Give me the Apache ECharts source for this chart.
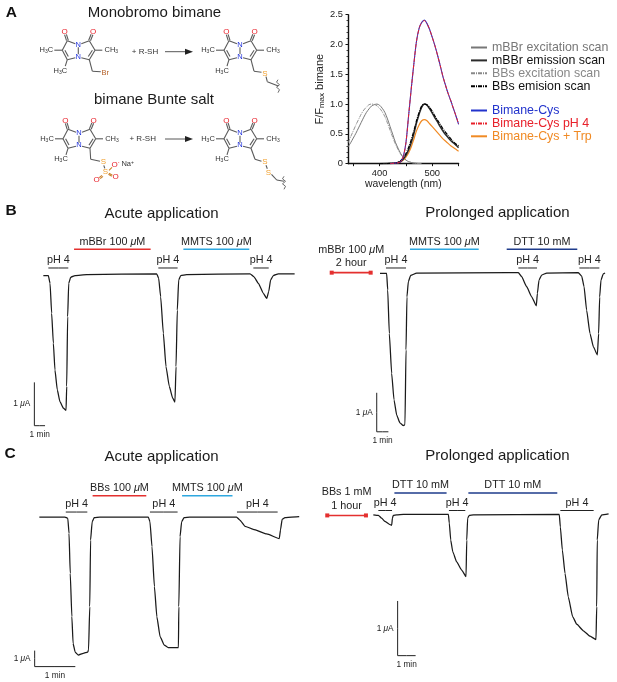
<!DOCTYPE html>
<html><head><meta charset="utf-8">
<style>html,body{margin:0;padding:0;background:#fff}#c{width:617px;height:682px}</style>
<script src="https://cdn.jsdelivr.net/npm/echarts@6/dist/echarts.min.js"></script>
</head><body><div id="c"></div>
<script>
// ---------- spectra, [wavelength nm, F/Fmax] ----------
const mbbrExcitation=[[340,.28],[345,.35],[350,.43],[355,.51],[360,.6],[365,.69],[370,.78],[375,.86],[380,.92],[385,.97],[390,.99],[395,1],[400,.98],[405,.93],[410,.86],[415,.75],[420,.62],[425,.49],[430,.36],[435,.26],[440,.17],[445,.11],[450,.06],[455,.035],[460,.02],[465,.01],[470,.005],[480,0]];
const mbbrEmission=[[400,0],[425,.005],[430,.01],[435,.02],[440,.04],[445,.08],[450,.14],[455,.23],[460,.35],[465,.5],[470,.68],[475,.83],[480,.95],[485,1],[490,.98],[495,.92],[500,.85],[505,.77],[510,.7],[515,.62],[520,.55],[525,.49],[530,.44],[535,.39],[540,.35],[545,.31],[550,.27]];
const bbsExcitation=[[340,.35],[345,.45],[350,.55],[355,.65],[360,.74],[365,.83],[370,.9],[375,.95],[380,.99],[385,1],[390,.995],[395,.97],[400,.93],[405,.87],[410,.79],[415,.68],[420,.56],[425,.44],[430,.33],[435,.24],[440,.16],[445,.1],[450,.06],[455,.035],[460,.02],[465,.01],[470,.005],[480,0]];
const bbsEmission=[[400,0],[425,.005],[430,.01],[435,.025],[440,.05],[445,.1],[450,.17],[455,.27],[460,.4],[465,.55],[470,.72],[475,.86],[480,.97],[485,1],[490,.99],[495,.94],[500,.88],[505,.8],[510,.73],[515,.66],[520,.59],[525,.53],[530,.47],[535,.42],[540,.37],[545,.33],[550,.3]];
const bimaneCys=[[420,0],[430,.01],[435,.015],[440,.03],[445,.12],[450,.35],[455,.8],[460,1.25],[465,1.67],[470,2.05],[475,2.27],[480,2.37],[485,2.41],[490,2.35],[495,2.25],[500,2.12],[505,1.98],[510,1.82],[515,1.65],[520,1.47],[525,1.32],[530,1.18],[535,1.06],[540,.93],[545,.8],[550,.66]];
const bimaneCysPh4=[[420,0],[430,.01],[435,.015],[440,.03],[445,.12],[450,.35],[455,.8],[460,1.25],[465,1.67],[470,2.05],[475,2.27],[480,2.37],[485,2.4],[490,2.35],[495,2.25],[500,2.12],[505,1.98],[510,1.82],[515,1.65],[520,1.47],[525,1.32],[530,1.18],[535,1.06],[540,.93],[545,.8],[550,.67]];
const bimaneCysTrp=[[420,0],[430,.01],[435,.015],[440,.03],[445,.06],[450,.11],[455,.18],[460,.28],[465,.41],[470,.55],[475,.65],[480,.72],[485,.74],[490,.72],[495,.67],[500,.62],[505,.57],[510,.52],[515,.47],[520,.42],[525,.38],[530,.34],[535,.3],[540,.27],[545,.24],[550,.21]];
const legendTop=['mBBr excitation scan','mBBr emission scan','BBs excitation scan','BBs emision scan'];
const legendBottom=['Bimane-Cys','Bimane-Cys pH 4','Bimane-Cys + Trp'];
const spectrumYTicks=[0,.5,1,1.5,2,2.5];
const spectrumXLabels=[400,500];
const spectrumXTicks=[350,400,450,500,550];

// ---------- current traces, [time min, current uA] ----------
const traceBA=[[0,-.02],[.47,-.02],[.63,-.2],[.78,-.89],[.94,-1.58],[1.09,-2.2],[1.31,-2.66],[1.56,-2.93],[1.88,-3.08],[2.13,-3.13],[2.19,-2.58],[2.28,-.97],[2.38,-.2],[2.56,-.06],[2.97,-.02],[4.06,0],[10.63,.02],[10.81,-.08],[11,-.51],[11.25,-1.35],[11.5,-2.12],[11.81,-2.58],[12.13,-2.85],[12.34,-2.94],[12.44,-2.12],[12.56,-.82],[12.69,-.12],[12.88,-.02],[13.44,0],[19.38,.02],[19.75,-.05],[20.16,-.2],[20.63,-.43],[20.94,-.55],[21.13,-.39],[21.31,-.12],[21.56,-.02],[22.03,.02],[23.56,.02]];
const traceBP=[[0,-.02],[.57,-.02],[.66,-.44],[.8,-1.56],[1,-2.58],[1.2,-3.26],[1.43,-3.65],[1.71,-3.85],[2,-3.92],[2.14,-3.9],[2.23,-1.98],[2.31,-.62],[2.43,-.23],[2.63,-.07],[3.14,-.01],[11,0],[11.86,0],[12.14,-.1],[12.57,-.36],[13,-.62],[13.4,-.85],[13.49,-.53],[13.63,-.19],[13.86,-.06],[14.29,-.01],[17,0],[17.29,-.09],[17.49,-.36],[17.71,-.96],[18,-1.56],[18.29,-1.9],[18.63,-2.11],[18.74,-1.56],[18.83,-.62],[18.94,-.19],[19.14,-.03],[19.29,-.01]];
const traceCA=[[0,0],[.63,0],[.7,-.08],[.73,-1.02],[.76,-3.52],[.8,-6.23],[.83,-7.9],[.88,-8.44],[.96,-8.63],[1.08,-8.52],[1.19,-8.44],[1.21,-8.31],[1.24,-5.6],[1.26,-1.44],[1.3,-.29],[1.35,-.04],[1.49,0],[2.68,0],[2.72,-.29],[2.77,-1.85],[2.83,-4.35],[2.89,-6.23],[2.97,-7.48],[3.07,-8],[3.17,-8.17],[3.42,-8.17],[3.43,-5.6],[3.46,-1.23],[3.5,-.29],[3.56,-.04],[3.7,0],[4.85,0],[4.93,-.19],[5.06,-.58],[5.26,-.77],[5.59,-1.06],[5.9,-1.35],[5.93,-.81],[5.97,-.15],[6.04,-.04],[6.2,0],[6.39,.02]];
const traceCP=[[0,-.01],[.28,-.02],[.46,-.07],[.65,-.13],[.93,-.19],[1.02,-.2],[1.06,-.07],[1.11,-.02],[1.3,-.01],[1.67,0],[4.17,0],[4.22,-.16],[4.3,-.47],[4.41,-.68],[4.63,-.87],[4.91,-1.02],[5.15,-1.14],[5.19,-.47],[5.24,-.07],[5.33,-.02],[5.56,-.01],[10.33,0],[10.39,-.23],[10.5,-.65],[10.65,-1.08],[10.83,-1.51],[11.07,-1.87],[11.3,-2.01],[11.67,-2.13],[12.04,-2.23],[12.37,-2.29],[12.41,-1.69],[12.44,-.47],[12.52,-.1],[12.69,-.01],[13.07,.01]];

// ---------- application periods: label, start min, end min ----------
const acidBA=[[.47,2.34],[10.78,12.59],[19.69,21.13]];
const drugLabelsBA=['mBBr 100 μM','MMTS 100 μM'];
const drugTimesBA=[[2.88,10.06],[13.13,19.31]];
const acidBP=[[.51,2.23],[11.86,13.46],[17.09,18.8]];
const drugLabelsBP=['MMTS 100 μM','DTT 10 mM'];
const drugTimesBP=[[2.57,8.46],[10.86,16.91]];
const preLabelBP='mBBr 100 μM\n2 hour';
const preTimeBP=[-4.14,-.8];
const acidCA=[[.65,1.18],[2.72,3.4],[4.86,5.86]];
const drugLabelsCA=['BBs 100 μM','MMTS 100 μM'];
const drugTimesCA=[[1.31,2.63],[3.51,4.75]];
const acidCP=[[.28,1.04],[4.2,5.11],[10.39,12.24]];
const drugLabelsCP=['DTT 10 mM','DTT 10 mM'];
const drugTimesCP=[[1.17,4.07],[5.28,10.22]];
const preLabelCP='BBs 1 mM\n1 hour';
const preTimeCP=[-2.56,-.41];

const FONT='"Liberation Sans",Arial,sans-serif';
const RED='#e4302f',CYAN='#2ea8e0',NAVY='#1f3c8c',INK='#1a1a1a';
const richMu=s=>s.replace(/μ/g,'{i|μ}');
const muRich=f=>({i:{fontStyle:'italic',fontSize:f,fontFamily:FONT,color:'#222'}});

const panels=[
 {g:{left:22,top:231.33,width:277.33,height:216.67},x:[-2,24],y:[-4,1],trace:traceBA,acid:acidBA,dl:drugLabelsBA,dt:drugTimesBA,acidLvl:.154,drugLvl:.585,dc:[RED,CYAN],scale:[-.84,-2.485]},
 {g:{left:298.33,top:233.67,width:315,height:234},x:[-7,20],y:[-5,1],trace:traceBP,acid:acidBP,dl:drugLabelsBP,dt:drugTimesBP,acidLvl:.12,drugLvl:.6,dc:[CYAN,NAVY],scale:[-.28,-3.08],preL:preLabelBP,preT:preTimeBP,preLvl:0},
 {g:{left:19,top:469,width:284.67,height:208},x:[-.5,6.5],y:[-10,3],trace:traceCA,acid:acidCA,dl:drugLabelsCA,dt:drugTimesCA,acidLvl:.31,drugLvl:1.33,dc:[RED,CYAN],scale:[-.115,-8.35]},
 {g:{left:301.33,top:487,width:315,height:191.33},x:[-4,13.5],y:[-3,.5],trace:traceCP,acid:acidCP,dl:drugLabelsCP,dt:drugTimesCP,acidLvl:.07,drugLvl:.39,dc:[NAVY,NAVY],scale:[1.35,-1.585],preL:preLabelCP,preT:preTimeCP,preLvl:-.02}
];

const grids=[{left:348,top:14.67,width:110.6,height:149}];
const xAxes=[{gridIndex:0,type:'value',min:340,max:550,
  axisLine:{onZero:false,lineStyle:{color:'#111',width:1.4}},
  axisTick:{length:2.5,lineStyle:{color:'#111',width:1},customValues:spectrumXTicks},
  axisLabel:{fontFamily:FONT,fontSize:9.3,color:'#222',margin:5,customValues:spectrumXLabels,formatter:v=>String(v)},
  splitLine:{show:false},name:'wavelength (nm)',nameLocation:'middle',nameGap:15,nameTextStyle:{fontFamily:FONT,fontSize:10.4,color:'#222'}}];
const yAxes=[{gridIndex:0,type:'value',min:0,max:2.5,interval:.5,
  axisLine:{show:true,lineStyle:{color:'#111',width:1.4}},
  axisTick:{show:true,length:2.5,lineStyle:{color:'#111',width:1}},
  minorTick:{show:true,splitNumber:5,length:1.5,lineStyle:{color:'#111',width:.8}},
  axisLabel:{fontFamily:FONT,fontSize:9.3,color:'#222',margin:5,customValues:spectrumYTicks,formatter:v=>v===0?'0':v.toFixed(1)},
  splitLine:{show:false},
  name:'F/F{s|max} bimane',nameLocation:'middle',nameRotate:90,nameGap:20,
  nameTextStyle:{fontFamily:FONT,fontSize:11,color:'#222',rich:{s:{fontSize:8,fontFamily:FONT,color:'#222',verticalAlign:'bottom',padding:[4,0,0,0]}}}}];

const specLine=(name,data,color,width,dash)=>({type:'line',name,data,xAxisIndex:0,yAxisIndex:0,symbol:'none',smooth:.3,silent:true,
  lineStyle:{color,width,type:dash||'solid'},itemStyle:{color}});
const DD=[4,1,1,1];
const series=[
 specLine(legendTop[0],mbbrExcitation,'#777',1),
 specLine(legendTop[2],bbsExcitation,'#888',.9,DD),
 specLine(legendBottom[2],bimaneCysTrp,'#f08a24',1.2),
 specLine(legendTop[1],mbbrEmission,'#2b2b2b',1.5),
 specLine(legendTop[3],bbsEmission,'#000',1.2,DD),
 specLine(legendBottom[0],bimaneCys,'#2233cc',1.1),
 specLine(legendBottom[1],bimaneCysPh4,'#e8202a',1,DD)
];

function labelOf(text,size,dist,pos){
  return {show:true,position:pos||'top',distance:dist,formatter:richMu(text),fontFamily:FONT,fontSize:size,color:'#222',lineHeight:13.3,rich:muRich(size)};
}
function barSeries(idx,t,lvl,text,color,width,ends){
  const mid=(t[0]+t[1])/2;
  const endPoint=x=>ends?{value:[x,lvl],symbol:'rect',symbolSize:4,itemStyle:{color}}:{value:[x,lvl]};
  return {type:'line',xAxisIndex:idx,yAxisIndex:idx,silent:true,symbol:'circle',symbolSize:0,showSymbol:true,showAllSymbol:true,clip:false,
    lineStyle:{color,width},itemStyle:{color},
    data:[endPoint(t[0]),{value:[mid,lvl],label:labelOf(text,10.8,ends?3:1)},endPoint(t[1])]};
}
function scaleSeries(idx,s){
  const [x0,top]=s, bottom=top-1, x1=x0+1;
  return {type:'line',xAxisIndex:idx,yAxisIndex:idx,silent:true,symbol:'circle',symbolSize:0,showSymbol:true,showAllSymbol:true,clip:false,
    lineStyle:{color:'#222',width:1},itemStyle:{color:'#222'},
    data:[{value:[x0,top]},{value:[x0,top-.5],label:labelOf('1 μA',8.3,4,'left')},{value:[x0,bottom]},
          {value:[x0+.5,bottom],label:labelOf('1 min',8.3,2,'bottom')},{value:[x1,bottom]}]};
}
panels.forEach((p,i)=>{
  const idx=i+1;
  grids.push(p.g);
  xAxes.push({gridIndex:idx,type:'value',min:p.x[0],max:p.x[1],show:false});
  yAxes.push({gridIndex:idx,type:'value',min:p.y[0],max:p.y[1],show:false});
  series.push({type:'line',xAxisIndex:idx,yAxisIndex:idx,data:p.trace,symbol:'none',silent:true,smooth:.15,smoothMonotone:'x',clip:false,lineStyle:{color:INK,width:1.25,join:'round'}});
  p.acid.forEach(t=>series.push(barSeries(idx,t,p.acidLvl,'pH 4','#222',1)));
  p.dl.forEach((l,k)=>series.push(barSeries(idx,p.dt[k],p.drugLvl,l,p.dc[k],1.6)));
  if(p.preL) series.push(barSeries(idx,p.preT,p.preLvl,p.preL,RED,1.6,true));
  series.push(scaleSeries(idx,p.scale));
});

// ---------- chemical structures and headings ----------
const graphic=[];
const BOND='#5a5a5a';
function ln(a,b,c,w){graphic.push({type:'line',silent:true,shape:{x1:a[0],y1:a[1],x2:b[0],y2:b[1]},style:{stroke:c||BOND,lineWidth:w||1.1}});}
function tx(text,x,y,size,fill,opts){
  graphic.push({type:'text',silent:true,x,y,style:Object.assign({text,fontFamily:FONT,fontSize:size,fill:fill||'#222',align:'center',verticalAlign:'middle'},opts||{})});
}
const SUB={s:{fontSize:5,fontFamily:FONT,fill:'#333',color:'#333',verticalAlign:'bottom',padding:[3,0,0,0]}};
function core(ox,oy){
  const P=(x,y)=>[ox+x,oy+y];
  const COL=[-11,-10],CML=[-16,-.5],CLL=[-11,9],COR=[11,-10],CMR=[16.7,-.5],CLR=[11,9];
  const bonds=[[[0,-3.5],[0,3.5]],[[-3,-7],COL],[COL,CML],[CML,CLL],[CLL,[-3,7]],[[3,-7],COR],[COR,CMR],[CMR,CLR],[CLR,[3,7]]];
  bonds.forEach(b=>ln(P(...b[0]),P(...b[1])));
  ln(P(-13.4,-.5),P(-10,5.8)); ln(P(14.1,-.5),P(10,5.8));             // inner double bonds
  ln(P(-11.8,-10),P(-13.7,-16)); ln(P(-10.0,-10.4),P(-11.9,-16.4));   // C=O left
  ln(P(10.4,-10.4),P(12.8,-16.4)); ln(P(12.2,-10),P(14.6,-16));       // C=O right
  ln(P(-16,-.5),P(-24,-.5)); ln(P(16.7,-.5),P(24,-.5)); ln(P(-11,9),P(-13,15.5));
  tx('N',ox,oy-6,7.5,'#2233dd'); tx('N',ox,oy+6,7.5,'#2233dd');
  tx('O',ox-13.6,oy-19,8,'#e8202a'); tx('O',ox+14.7,oy-19,8,'#e8202a');
  tx('H{s|3}C',ox-32,oy-.5,7.5,'#333',{rich:SUB});
  tx('CH{s|3}',ox+33,oy-.5,7.5,'#333',{rich:SUB});
  tx('H{s|3}C',ox-18,oy+20,7.5,'#333',{rich:SUB});
  return P;
}
const SCOL='#f0a030';
function squiggle(ox,oy,x,y0,y1){
  graphic.push({type:'polyline',silent:true,shape:{points:[[x,y0],[x-1.5,y0+2.5],[x+1.5,y0+5],[x-1.5,y0+7.5],[x+1.5,y0+10],[x,y1]].map(p=>[ox+p[0],oy+p[1]])},style:{stroke:BOND,fill:null,lineWidth:.9}});
}
// monobromo bimane
let P=core(78.3,50.7);
ln(P(11,9),P(14,20.5)); ln(P(14,20.5),P(22.5,21));
tx('Br',78.3+27,50.7+22,7.5,'#b5622a');
// product of monobromo bimane
P=core(240,50.7);
ln(P(11,9),P(14,20.5)); ln(P(14,20.5),P(21.5,21.5)); ln(P(26,26),P(27.3,31)); ln(P(27.3,31),P(38.3,35.3));
tx('S',240+25,50.7+22.7,8,SCOL); squiggle(240,50.7,38,29,42);
// bimane Bunte salt
P=core(79,139.3);
ln(P(11,9),P(11.7,20)); ln(P(11.7,20),P(21,22)); ln(P(24.8,26),P(25.8,29));
ln(P(30,31),P(33,28),'#c9802a'); ln(P(23,36),P(20.2,38.3),'#c9802a'); ln(P(24,37),P(21.2,39.3),'#c9802a'); ln(P(30,34),P(33.4,36),'#c9802a'); ln(P(29.4,35),P(32.8,37),'#c9802a');
tx('S',79+24.3,139.3+22,8,SCOL); tx('S',79+26.3,139.3+32.7,8,SCOL);
tx('O{r|-}',79+36.4,139.3+25.2,8,'#e8202a',{rich:{r:{fontSize:5,fill:'#e8202a',color:'#e8202a',verticalAlign:'top'}}});
tx('O',79+17.7,139.3+40,8,'#e8202a'); tx('O',79+36.7,139.3+37.3,8,'#e8202a');
tx('Na{r|+}',79+48.7,139.3+24.7,7.5,'#333',{rich:{r:{fontSize:5,fill:'#333',color:'#333',verticalAlign:'top'}}});
// product of Bunte salt
P=core(240,139.3);
ln(P(11,9),P(15,20)); ln(P(15,20),P(21.5,22)); ln(P(26,26),P(27.3,29.5)); ln(P(31.5,35),P(36.7,40.7)); ln(P(36.7,40.7),P(44,42));
tx('S',240+25,139.3+22,8,SCOL); tx('S',240+28.3,139.3+33,8,SCOL); squiggle(240,139.3,44,37,50);
// reagents and arrows
tx('+ R-SH',145,51.7,8,'#333'); tx('+ R-SH',142.7,139,8,'#333');
[[165,51.7],[165,139]].forEach(a=>{
  ln(a,[a[0]+21,a[1]],'#444',.9);
  graphic.push({type:'polygon',silent:true,shape:{points:[[a[0]+20,a[1]-3],[a[0]+28,a[1]],[a[0]+20,a[1]+3]]},style:{fill:'#222'}});
});
// headings
tx('A',11.3,12.5,15.5,'#111',{fontWeight:'bold'}); tx('B',11,211,15.5,'#111',{fontWeight:'bold'}); tx('C',10,454,15.5,'#111',{fontWeight:'bold'});
tx('Monobromo bimane',154.5,12.5,15,'#1a1a1a'); tx('bimane Bunte salt',154,100,15,'#1a1a1a');
tx('Acute application',161.5,214,15,'#1a1a1a'); tx('Prolonged application',497.5,212.7,15,'#1a1a1a');
tx('Acute application',161.5,456.7,15,'#1a1a1a'); tx('Prolonged application',497.5,456,15,'#1a1a1a');

const legendColors={[legendTop[0]]:'#777',[legendTop[1]]:'#111',[legendTop[2]]:'#888',[legendTop[3]]:'#111',[legendBottom[0]]:'#2233cc',[legendBottom[1]]:'#e8202a',[legendBottom[2]]:'#f08a24'};
const leg=(names,top)=>({left:470,top,orient:'vertical',itemWidth:16,itemHeight:13,itemGap:.9,padding:0,selectedMode:false,
  itemStyle:{opacity:0,borderWidth:0},
  textStyle:{fontFamily:FONT,fontSize:12.4},
  data:names.map(n=>({name:n,textStyle:{color:legendColors[n],fontFamily:FONT,fontSize:12.4}}))});

const chart=echarts.init(document.getElementById('c'),null,{renderer:'canvas'});
chart.setOption({animation:false,backgroundColor:'#fff',grid:grids,xAxis:xAxes,yAxis:yAxes,series,
  legend:[leg(legendTop,41.5),leg(legendBottom,104.5)],graphic:{elements:graphic},tooltip:{show:false}});
</script></body></html>
